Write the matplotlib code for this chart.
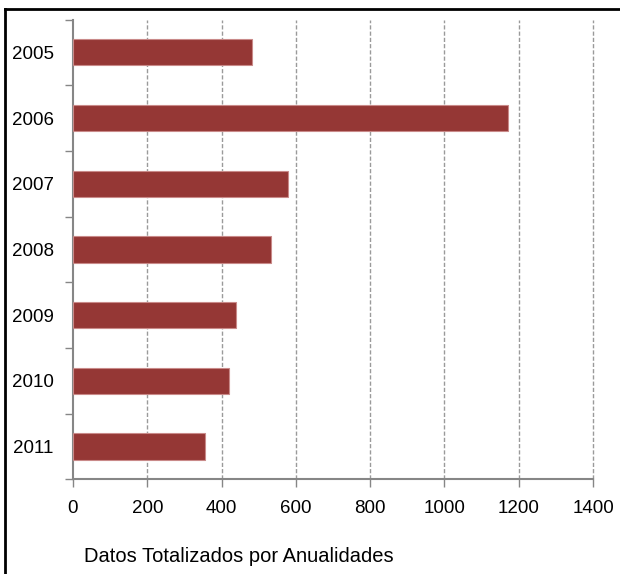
import matplotlib.pyplot as plt
from matplotlib.lines import Line2D

years = ['2005', '2006', '2007', '2008', '2009', '2010', '2011']
totals = [482, 1170, 580, 534, 440, 420, 356]
x_ticks = [0, 200, 400, 600, 800, 1000, 1200, 1400]

plt.rcParams['font.family'] = ['Liberation Sans', 'DejaVu Sans']

fig = plt.figure(figsize=(6.2, 5.74), dpi=100)
ax = fig.add_axes([73 / 620, 94.7 / 574, 520 / 620, 459.8 / 574])

pos = list(range(len(years)))
ax.barh(pos, totals, height=0.4, color='#953735', edgecolor='#c98a89', linewidth=0.8, zorder=3)

ax.set_xlim(0, 1400)
ax.set_ylim(len(years) - 0.5, -0.5)
ax.set_xticks(x_ticks)
ax.set_xticklabels([str(v) for v in x_ticks])

# category labels in the middle, tick marks on the boundaries
ax.set_yticks(pos)
ax.set_yticklabels(years)
ax.set_yticks([p - 0.5 for p in range(len(years) + 1)], minor=True)
ax.tick_params(axis='y', which='major', length=0, pad=14, labelsize=13.5)
ax.tick_params(axis='y', which='minor', length=6, width=1, color='#868686', direction='out')
ax.tick_params(axis='x', length=6, width=1, color='#868686', direction='out', pad=9, labelsize=13.5)

for v in x_ticks[1:]:
    ax.axvline(v, color='#9a9a9a', linewidth=1, linestyle=(0, (3, 1.5)), zorder=1, clip_on=False)

for side in ['top', 'right']:
    ax.spines[side].set_visible(False)
for side in ['left', 'bottom']:
    ax.spines[side].set_color('#868686')
    ax.spines[side].set_linewidth(1.5)

fig.text(84 / 620, (574 - 556) / 574, 'Datos Totalizados por Anualidades',
         fontsize=14.5, ha='left', va='center')

# chart frame, only the top and left edges show
fig.add_artist(Line2D([5 / 620, 5 / 620], [0, (574 - 9) / 574], color='black', linewidth=2,
                      transform=fig.transFigure))
fig.add_artist(Line2D([5 / 620, 1], [(574 - 9) / 574, (574 - 9) / 574], color='black', linewidth=2,
                      transform=fig.transFigure))

fig.savefig('out.png', dpi=100)
